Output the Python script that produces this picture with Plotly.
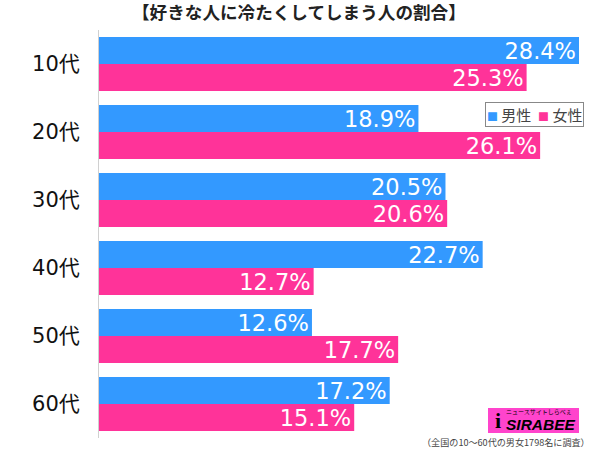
import plotly.graph_objects as go

categories = ["10代", "20代", "30代", "40代", "50代", "60代"]
male = [28.4, 18.9, 20.5, 22.7, 12.6, 17.2]
female = [25.3, 26.1, 20.6, 12.7, 17.7, 15.1]
series_names = ["男性", "女性"]
title_text = "【好きな人に冷たくしてしまう人の割合】"
note_text = "（全国の10～60代の男女1798名に調査）"

BLUE = "#3399FF"
PINK = "#FF3399"
FONT = "Noto Sans CJK JP"
NUMFONT = "DejaVu Sans, Noto Sans CJK JP"

fig = go.Figure()
for name, vals, col in [(series_names[0], male, BLUE), (series_names[1], female, PINK)]:
    fig.add_trace(go.Bar(
        y=categories, x=vals, name=name, orientation="h",
        marker=dict(color=col, line=dict(width=0)),
        text=[f"{v:.1f}%" for v in vals],
        textposition="inside", insidetextanchor="end",
        textfont=dict(color="white", size=22.5, family=NUMFONT),
        cliponaxis=False,
    ))

legend_html = (f"<span style='color:{BLUE};font-size:11px'>■</span> {series_names[0]}  "
               f"<span style='color:{PINK};font-size:11px'>■</span> {series_names[1]}")

fig.update_layout(
    width=600, height=449,
    margin=dict(l=99, r=21, t=30, b=11),
    paper_bgcolor="white", plot_bgcolor="rgba(0,0,0,0)",
    barmode="group", bargap=0.206, bargroupgap=0,
    showlegend=False,
    font=dict(family=FONT, color="#222"),
    uniformtext=dict(minsize=20, mode="show"),
    xaxis=dict(range=[0, max(male + female)], showgrid=False, zeroline=False,
               showticklabels=False, showline=False, fixedrange=True),
    yaxis=dict(autorange="reversed", showgrid=False, zeroline=False,
               showline=True, linecolor="#d0d0d0", linewidth=1,
               tickfont=dict(size=21, color="#111", family=NUMFONT),
               ticks="", ticklabelstandoff=14),
    annotations=[
        dict(text="<b>" + title_text + "</b>", x=299, y=12, xanchor="center", yanchor="middle",
             showarrow=False, font=dict(size=17.6, color="#222", family=FONT)),
        dict(text=legend_html, x=584, y=102, xanchor="right", yanchor="top",
             showarrow=False, bordercolor="#888", borderwidth=1, borderpad=1,
             bgcolor="white", font=dict(size=15, color="#444", family=FONT)),
        dict(text=note_text, x=592, y=442, xanchor="right", yanchor="middle",
             showarrow=False, font=dict(size=9.1, color="#444", family=FONT)),
        dict(text="<b><i>SIRABEE</i></b>", x=578, y=424, xanchor="right", yanchor="middle",
             showarrow=False, font=dict(size=15.5, color="black", family="Liberation Sans")),
        dict(text="ニュースサイトしらべぇ", x=574, y=411, xanchor="right", yanchor="middle",
             showarrow=False, font=dict(size=6, color="black", family=FONT)),
        dict(text="<b>i</b>", x=498, y=420, xanchor="center", yanchor="middle",
             showarrow=False, font=dict(size=22, color="black", family="Liberation Serif")),
    ],
    shapes=[dict(type="rect", xref="paper", yref="paper", x0=488, x1=579, y0=408, y1=433,
                 fillcolor="#FF44CC", line=dict(width=0), layer="above")],
)

# convert pixel positions to paper coordinates
pw, ph = 600 - 99 - 21, 449 - 30 - 11
def px(x): return (x - 99) / pw
def py(y): return 1 - (y - 30) / ph
for a in fig.layout.annotations:
    a.xref, a.yref = "paper", "paper"
    a.x = px(a.x)
    a.y = py(a.y)
for s in fig.layout.shapes:
    s.x0, s.x1 = px(s.x0), px(s.x1)
    s.y0, s.y1 = py(s.y0), py(s.y1)

fig.write_html("out.html")
